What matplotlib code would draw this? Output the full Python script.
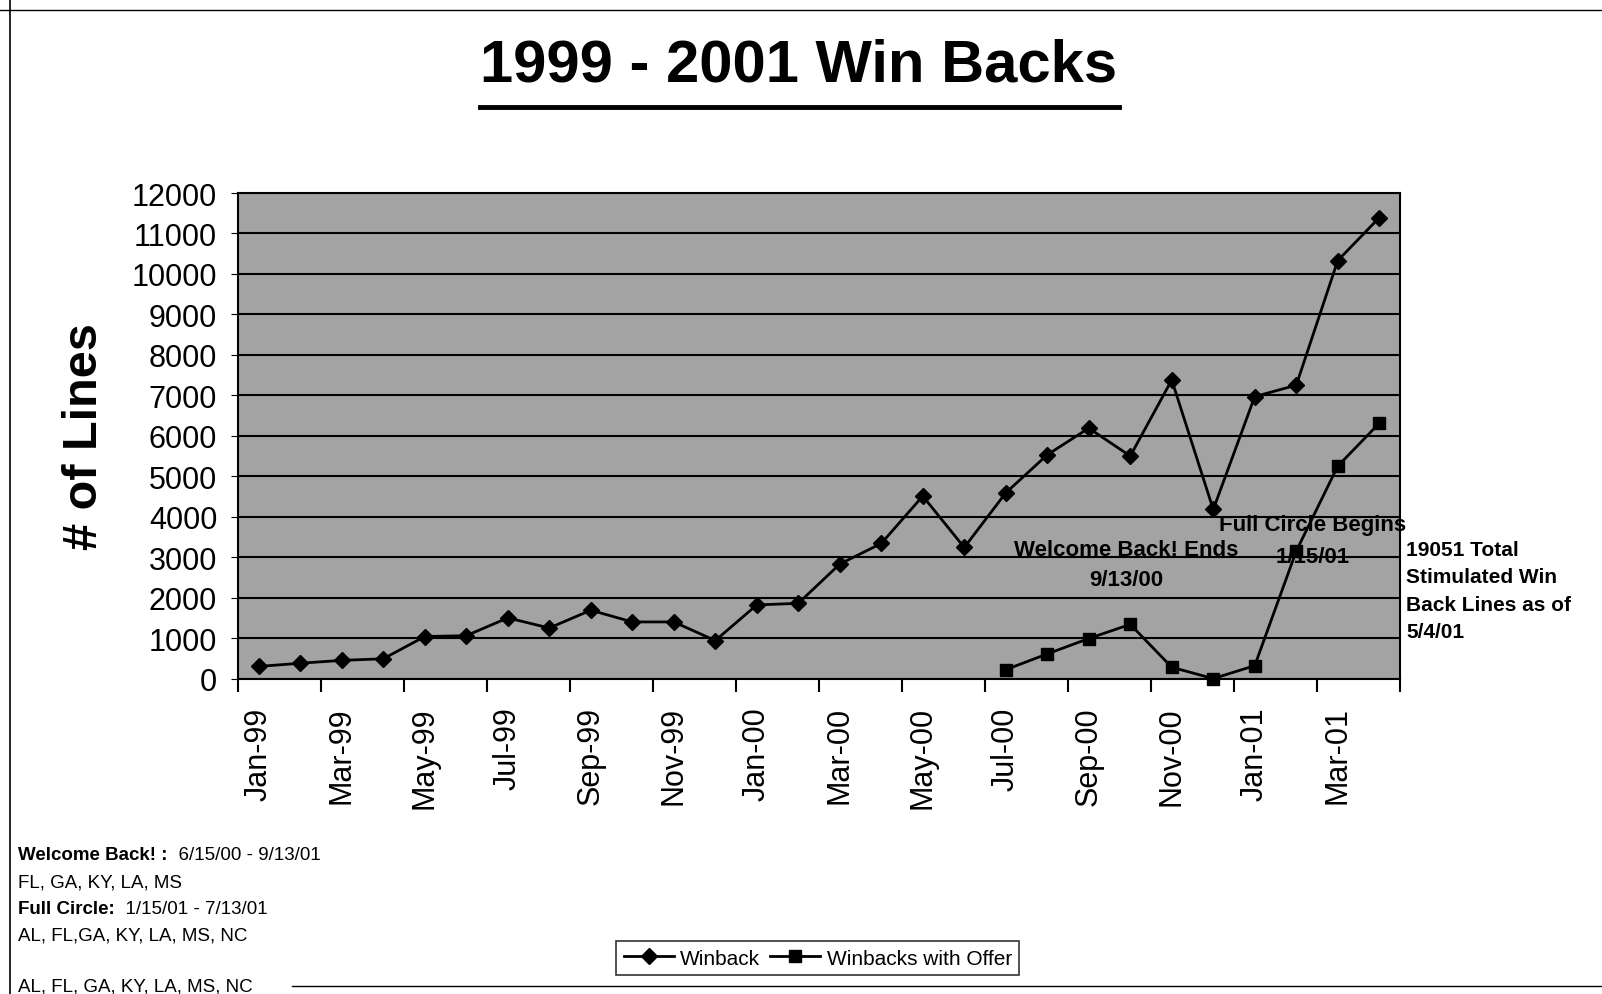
import numpy as np
import matplotlib
matplotlib.use('Agg')
import matplotlib.pyplot as plt
from matplotlib.lines import Line2D

plt.rcParams['font.family'] = ['Liberation Sans', 'DejaVu Sans']

# data
months = ['Jan-99', 'Feb-99', 'Mar-99', 'Apr-99', 'May-99', 'Jun-99', 'Jul-99',
          'Aug-99', 'Sep-99', 'Oct-99', 'Nov-99', 'Dec-99', 'Jan-00', 'Feb-00',
          'Mar-00', 'Apr-00', 'May-00', 'Jun-00', 'Jul-00', 'Aug-00', 'Sep-00',
          'Oct-00', 'Nov-00', 'Dec-00', 'Jan-01', 'Feb-01', 'Mar-01', 'Apr-01']
winback = [300, 380, 450, 490, 1040, 1060, 1500, 1250, 1690, 1400, 1400, 940,
           1820, 1860, 2830, 3340, 4510, 3240, 4590, 5530, 6190, 5500, 7380,
           4180, 6970, 7250, 10330, 11390]
offer = [np.nan] * 18 + [220, 610, 990, 1340, 280, 0, 320, 3150, 5250, 6310]

x = np.arange(len(months))

fig = plt.figure(figsize=(16.02, 9.95), dpi=100)
ax = fig.add_axes([0.1486, 0.317, 0.7253, 0.488])
ax.set_facecolor('#a3a3a3')

ax.plot(x, winback, color='black', lw=2, marker='D', ms=8, clip_on=False,
        label='Winback', zorder=3)
ax.plot(x, offer, color='black', lw=2, marker='s', ms=8, clip_on=False,
        label='Winbacks with Offer', zorder=3)

ax.set_xlim(-0.5, len(months) - 0.5)
ax.set_ylim(0, 12000)
ax.set_yticks(np.arange(0, 12001, 1000))
ax.yaxis.grid(True, color='black', lw=1.5)
ax.set_axisbelow(True)
ax.tick_params(axis='y', labelsize=22, direction='out', length=5, pad=10)

# tick marks every two months at boundaries, labels at the month centres
ax.set_xticks(np.arange(-0.5, len(months), 2))
ax.set_xticklabels([])
ax.set_xticks(x[::2], minor=True)
ax.set_xticklabels(months[::2], minor=True, rotation=90, fontsize=22)
ax.tick_params(axis='x', which='major', direction='out', length=9, width=1.5)
ax.tick_params(axis='x', which='minor', length=0, pad=20)
for s in ax.spines.values():
    s.set_linewidth(1.5)

ax.set_ylabel('# of Lines', fontsize=35, fontweight='bold', labelpad=18)

# annotations inside the plot
ax.text(20.9, 3200, 'Welcome Back! Ends', fontsize=16, fontweight='bold',
        ha='center', va='center', zorder=4)
ax.text(20.9, 2450, '9/13/00', fontsize=16, fontweight='bold',
        ha='center', va='center', zorder=4)
ax.text(25.4, 3800, 'Full Circle Begins', fontsize=16, fontweight='bold',
        ha='center', va='center', zorder=4)
ax.text(25.4, 3020, '1/15/01', fontsize=16, fontweight='bold',
        ha='center', va='center', zorder=4)
ax.text(27.65, 3420, '19051 Total\nStimulated Win\nBack Lines as of\n5/4/01',
        fontsize=15, fontweight='bold', ha='left', va='top', linespacing=1.55,
        clip_on=False)

# title with underline
fig.text(0.4985, 0.934, '1999 - 2001 Win Backs', fontsize=43,
         fontweight='bold', ha='center', va='center')
fig.add_artist(Line2D([0.2995, 0.6985], [0.891, 0.891], color='black', lw=3.5,
                      transform=fig.transFigure))

# page frame lines from the scan
fig.add_artist(Line2D([0.0, 1.0], [0.989, 0.989], color='black', lw=1,
                      transform=fig.transFigure))
fig.add_artist(Line2D([0.0065, 0.0065], [0.0, 1.0], color='black', lw=1.2,
                      transform=fig.transFigure))
fig.add_artist(Line2D([0.182, 1.0], [0.008, 0.008], color='black', lw=1,
                      transform=fig.transFigure))

# notes at lower left
notes = [
    (0.140, 'Welcome Back! :', '  6/15/00 - 9/13/01'),
    (0.113, '', 'FL, GA, KY, LA, MS'),
    (0.0864, 'Full Circle:', '  1/15/01 - 7/13/01'),
    (0.0593, '', 'AL, FL,GA, KY, LA, MS, NC'),
    (0.008, '', 'AL, FL, GA, KY, LA, MS, NC'),
]
for ypos, bold_part, rest in notes:
    if bold_part:
        t = fig.text(0.0115, ypos, bold_part, fontsize=13.5, fontweight='bold',
                     va='center', ha='left')
        ax.annotate(rest, xy=(1, 0.5), xycoords=t, fontsize=13.5, va='center',
                    ha='left', annotation_clip=False)
    else:
        fig.text(0.0115, ypos, rest, fontsize=13.5, va='center', ha='left')

leg = fig.legend(loc='center', bbox_to_anchor=(0.5105, 0.036), ncol=2,
                 fontsize=15, frameon=True, fancybox=False, edgecolor='black',
                 handlelength=2.4, handletextpad=0.3, columnspacing=0.5,
                 borderpad=0.35)
leg.get_frame().set_linewidth(1.2)

fig.savefig('out.png', dpi=100)
